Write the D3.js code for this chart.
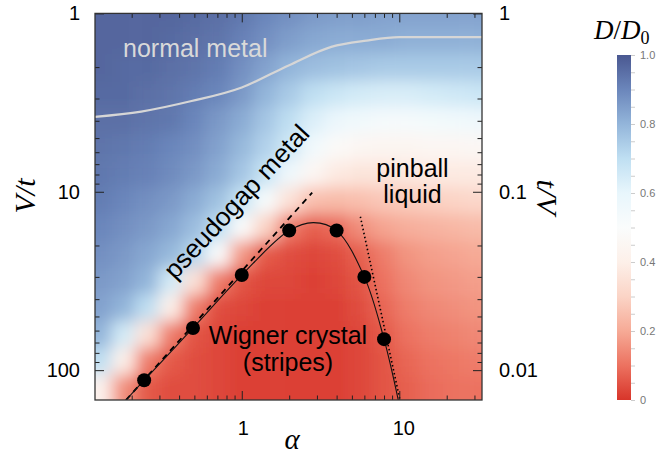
<!DOCTYPE html>
<html><head><meta charset="utf-8">
<script src="https://cdn.jsdelivr.net/npm/d3@7"></script>
<style>body{margin:0;background:#fff} svg{display:block}</style>
</head><body>
<svg id="c" width="659" height="458"></svg>
<script>
// ---------- data ----------
const heatAlpha = [0.126,0.178,0.25,0.355,0.5,0.71,1,1.41,2,2.82,4,5.6,7.9,11.2,15.8,22.4,31.6];
const heatV = [1,1.41,2,2.82,4,5.6,7.9,11.2,15.8,22.4,31.6,44.7,63,89,126];
const heatD = [
 [0.97,0.97,0.97,0.97,0.96,0.95,0.93,0.9,0.88,0.86,0.85,0.85,0.84,0.84,0.84,0.84,0.84],
 [0.97,0.97,0.97,0.96,0.95,0.94,0.91,0.88,0.85,0.83,0.82,0.82,0.82,0.81,0.81,0.81,0.81],
 [0.97,0.96,0.96,0.95,0.94,0.92,0.88,0.84,0.8,0.78,0.77,0.76,0.75,0.75,0.75,0.75,0.75],
 [0.96,0.96,0.95,0.94,0.92,0.9,0.86,0.8,0.75,0.7,0.67,0.65,0.64,0.64,0.65,0.66,0.67],
 [0.95,0.95,0.94,0.93,0.9,0.86,0.82,0.76,0.7,0.63,0.58,0.55,0.53,0.53,0.54,0.55,0.56],
 [0.94,0.93,0.92,0.9,0.88,0.84,0.79,0.73,0.66,0.55,0.48,0.45,0.44,0.44,0.45,0.45,0.46],
 [0.93,0.92,0.91,0.89,0.86,0.82,0.76,0.68,0.56,0.45,0.38,0.36,0.36,0.37,0.38,0.38,0.38],
 [0.92,0.9,0.88,0.86,0.82,0.77,0.68,0.52,0.35,0.25,0.24,0.25,0.27,0.28,0.29,0.3,0.31],
 [0.9,0.88,0.86,0.83,0.78,0.7,0.5,0.3,0.12,0.07,0.09,0.15,0.19,0.21,0.22,0.23,0.24],
 [0.88,0.86,0.83,0.79,0.72,0.5,0.17,0.06,0.04,0.03,0.04,0.07,0.12,0.16,0.18,0.19,0.2],
 [0.86,0.84,0.8,0.65,0.35,0.12,0.05,0.03,0.03,0.02,0.03,0.05,0.1,0.14,0.16,0.17,0.18],
 [0.84,0.8,0.7,0.4,0.12,0.04,0.03,0.02,0.02,0.02,0.02,0.04,0.08,0.12,0.14,0.15,0.16],
 [0.8,0.65,0.35,0.12,0.05,0.03,0.02,0.02,0.02,0.02,0.02,0.03,0.06,0.1,0.12,0.13,0.14],
 [0.7,0.4,0.12,0.06,0.04,0.03,0.02,0.02,0.02,0.02,0.02,0.03,0.05,0.08,0.1,0.11,0.12],
 [0.42,0.15,0.06,0.04,0.04,0.03,0.02,0.02,0.02,0.02,0.02,0.03,0.05,0.07,0.09,0.1,0.1]
];
const dotAlpha = [0.24,0.49,1,2,4,6,8];
const dotV = [114,58,29.3,16.5,16.5,30,67];
const domeAlpha = [0.184,0.24,0.49,1,2,2.85,4,6,8,9.85];
const domeV = [147,114,58,29.3,16.5,14.9,16.5,30,67,147];
const dashAlpha = [0.184,2.8];
const dashV = [147,10.1];
const dottedAlpha = [5.66,10.1];
const dottedV = [13.8,147];
const metalAlpha = [0.117,0.23,0.48,1,2,3.7,6.2,10,33.5];
const metalV = [3.8,3.55,3.1,2.6,1.95,1.54,1.42,1.36,1.36];
const xTickVals = [1,10];
const xTickLabels = ["1","10"];
const yTickVals = [1,10,100];
const yTickLabels = ["1","10","100"];
const rTickVals = [1,0.1,0.01];
const rTickLabels = ["1","0.1","0.01"];
const cbTickVals = [0,0.2,0.4,0.6,0.8,1.0];
const cbTickLabels = ["0","0.2","0.4","0.6","0.8","1.0"];
const cmapStops = [0,0.1,0.2,0.3,0.4,0.5,0.6,0.7,0.8,0.9,1];
const cmapColors = ["#d8352a","#ec7260","#f6aa96","#fbd4c6","#fdf0e9","#fafcfc","#e8f6fc","#bfdff2","#93b5da","#6b86bb","#4a5891"];

// ---------- layout ----------
const L = 95, R = 482, T = 13.4, B = 400;
const svg = d3.select("#c");
const x = d3.scaleLog().domain([0.117, 33.5]).range([L, R]);
const y = d3.scaleLog().domain([1, 147]).range([T, B]);
const yr = d3.scaleLog().domain([1, 1/147]).range([T, B]);
const color = d3.scaleLinear().domain(cmapStops).range(cmapColors).interpolate(d3.interpolateRgb);

const defs = svg.append("defs");
defs.append("clipPath").attr("id","plotclip").append("rect")
  .attr("x",L).attr("y",T).attr("width",R-L).attr("height",B-T);
const flt = defs.append("filter").attr("id","blur").attr("filterUnits","userSpaceOnUse")
  .attr("x",0).attr("y",0).attr("width",659).attr("height",458);
flt.append("feGaussianBlur").attr("stdDeviation",8);

// heatmap
const cx = heatAlpha.map(a => x(a));
const cy = heatV.map(v => y(v));
function bounds(c, lo, hi){
  return c.map((v,i)=>[ i===0 ? lo-60 : (c[i-1]+v)/2, i===c.length-1 ? hi+60 : (v+c[i+1])/2 ]);
}
const bx = bounds(cx, L, R), by = bounds(cy, T, B);
const cells = [];
heatD.forEach((row,j)=>row.forEach((d,i)=>cells.push({i,j,d})));
const hg = svg.append("g").attr("clip-path","url(#plotclip)").append("g").attr("filter","url(#blur)");
hg.selectAll("rect").data(cells).join("rect")
  .attr("x",c=>bx[c.i][0]).attr("y",c=>by[c.j][0])
  .attr("width",c=>bx[c.i][1]-bx[c.i][0]+0.5).attr("height",c=>by[c.j][1]-by[c.j][0]+0.5)
  .attr("fill",c=>color(c.d));

const pg = svg.append("g").attr("clip-path","url(#plotclip)");
// normal metal line
pg.append("path").datum(metalAlpha.map((a,i)=>[a,metalV[i]]))
  .attr("d", d3.line().x(d=>x(d[0])).y(d=>y(d[1])).curve(d3.curveMonotoneX))
  .attr("fill","none").attr("stroke","#d6d6d6").attr("stroke-width",2.2);
// dashed line
pg.append("path").datum(dashAlpha.map((a,i)=>[a,dashV[i]]))
  .attr("d", d3.line().x(d=>x(d[0])).y(d=>y(d[1])))
  .attr("fill","none").attr("stroke","#000").attr("stroke-width",1.8).attr("stroke-dasharray","6,5");
// dotted line
pg.append("path").datum(dottedAlpha.map((a,i)=>[a,dottedV[i]]))
  .attr("d", d3.line().x(d=>x(d[0])).y(d=>y(d[1])))
  .attr("fill","none").attr("stroke","#000").attr("stroke-width",1.6).attr("stroke-dasharray","1.5,2.6");
// dome curve
pg.append("path").datum(domeAlpha.map((a,i)=>[a,domeV[i]]))
  .attr("d", d3.line().x(d=>x(d[0])).y(d=>y(d[1])).curve(d3.curveCatmullRom.alpha(0.5)))
  .attr("fill","none").attr("stroke","#111").attr("stroke-width",1.1);
// dots
pg.selectAll("circle").data(dotAlpha.map((a,i)=>[a,dotV[i]])).join("circle")
  .attr("cx",d=>x(d[0])).attr("cy",d=>y(d[1])).attr("r",7).attr("fill","#000");

// region labels
const sans = "'Liberation Sans', Arial, Helvetica, sans-serif";
svg.append("text").attr("x",123).attr("y",57).text("normal metal")
  .attr("font-family",sans).attr("font-size",25).attr("fill","#d9d9d9");
svg.append("text").attr("transform","translate(238,203) rotate(-47)")
  .attr("text-anchor","middle").attr("dy","0.26em").text("pseudogap metal")
  .attr("font-family",sans).attr("font-size",26).attr("fill","#000");
const pin = svg.append("text").attr("text-anchor","middle").attr("font-family",sans).attr("font-size",25).attr("fill","#000");
pin.append("tspan").attr("x",412.5).attr("y",176.7).text("pinball");
pin.append("tspan").attr("x",412.5).attr("y",203.3).text("liquid");
const wig = svg.append("text").attr("text-anchor","middle").attr("font-family",sans).attr("font-size",25).attr("fill","#000");
wig.append("tspan").attr("x",288).attr("y",344).text("Wigner crystal");
wig.append("tspan").attr("x",288).attr("y",371).text("(stripes)");

// axes ticks
function minorTicks(lo, hi){
  const out=[];
  for(let e=-2;e<=2;e++) for(let m=2;m<=9;m++){ const v=m*Math.pow(10,e); if(v>lo && v<hi) out.push(v); }
  return out;
}
const xMinor = minorTicks(0.117,33.5), yMinor = minorTicks(1,147);
const tickStyle = g => { g.select(".domain").remove(); g.selectAll("line").attr("stroke","#222").attr("stroke-width",1); g.selectAll("text").attr("font-family",sans).attr("font-size",20).attr("fill","#000"); };

svg.append("g").attr("transform",`translate(0,${B})`)
  .call(d3.axisBottom(x).tickValues(xTickVals).tickFormat((d,i)=>xTickLabels[i]).tickSizeInner(-9).tickSizeOuter(0).tickPadding(21)).call(tickStyle)
  .selectAll("text").attr("dx",(d,i)=>i===1?4:1);
svg.append("g").attr("transform",`translate(0,${B})`)
  .call(d3.axisBottom(x).tickValues(xMinor).tickFormat("").tickSizeInner(-4.5).tickSizeOuter(0)).call(tickStyle);
svg.append("g").attr("transform",`translate(0,${T})`)
  .call(d3.axisTop(x).tickValues(xTickVals).tickFormat("").tickSizeInner(-9).tickSizeOuter(0)).call(tickStyle);
svg.append("g").attr("transform",`translate(0,${T})`)
  .call(d3.axisTop(x).tickValues(xMinor).tickFormat("").tickSizeInner(-4.5).tickSizeOuter(0)).call(tickStyle);
svg.append("g").attr("transform",`translate(${L},0)`)
  .call(d3.axisLeft(y).tickValues(yTickVals).tickFormat((d,i)=>yTickLabels[i]).tickSizeInner(-9).tickSizeOuter(0).tickPadding(15)).call(tickStyle);
svg.append("g").attr("transform",`translate(${L},0)`)
  .call(d3.axisLeft(y).tickValues(yMinor).tickFormat("").tickSizeInner(-4.5).tickSizeOuter(0)).call(tickStyle);
svg.append("g").attr("transform",`translate(${R},0)`)
  .call(d3.axisRight(yr).tickValues(rTickVals).tickFormat((d,i)=>rTickLabels[i]).tickSizeInner(-9).tickSizeOuter(0).tickPadding(17)).call(tickStyle);
svg.append("g").attr("transform",`translate(${R},0)`)
  .call(d3.axisRight(y).tickValues(yMinor).tickFormat("").tickSizeInner(-4.5).tickSizeOuter(0)).call(tickStyle);

// frame
svg.append("rect").attr("x",L).attr("y",T).attr("width",R-L).attr("height",B-T)
  .attr("fill","none").attr("stroke","#333").attr("stroke-width",1.3);

// axis titles
const serif = "'Liberation Serif', 'Times New Roman', serif";
svg.append("text").attr("transform","translate(35,196) rotate(-90)").attr("text-anchor","middle")
  .attr("font-family",serif).attr("font-style","italic").attr("font-size",30).text("V/t");
svg.append("text").attr("x",292).attr("y",449).attr("text-anchor","middle")
  .attr("font-family",serif).attr("font-style","italic").attr("font-size",29).text("α");
svg.append("text").attr("transform","translate(537,197) rotate(90)").attr("text-anchor","middle")
  .attr("font-family",serif).attr("font-style","italic").attr("font-size",30).text("t/V");

// colorbar
const cb = d3.scaleLinear().domain([0,1]).range([400,55]);
const grad = defs.append("linearGradient").attr("id","cbgrad").attr("x1",0).attr("y1",1).attr("x2",0).attr("y2",0);
grad.selectAll("stop").data(cmapStops).join("stop").attr("offset",d=>d).attr("stop-color",(d,i)=>cmapColors[i]);
svg.append("rect").attr("x",617).attr("y",cb(1)).attr("width",14).attr("height",cb(0)-cb(1)).attr("fill","url(#cbgrad)");
const cbg = svg.append("g").attr("transform","translate(631,0)")
  .call(d3.axisRight(cb).tickValues(d3.range(0,1.0001,0.05)).tickFormat("").tickSizeInner(4).tickSizeOuter(0));
cbg.select(".domain").remove(); cbg.selectAll("line").attr("stroke","#ccc");
const cbl = svg.append("g").attr("transform","translate(631,0)")
  .call(d3.axisRight(cb).tickValues(cbTickVals).tickFormat((d,i)=>cbTickLabels[i]).tickSize(0).tickPadding(9));
cbl.select(".domain").remove(); cbl.selectAll("text").attr("font-family",sans).attr("font-size",11).attr("fill","#777");
const tt = svg.append("text").attr("x",594).attr("y",39).attr("font-family",serif).attr("font-size",27);
tt.append("tspan").attr("font-style","italic").text("D");
tt.append("tspan").text("/");
tt.append("tspan").attr("font-style","italic").text("D");
tt.append("tspan").attr("font-size",18).attr("dy",5).text("0");
</script>
</body></html>
